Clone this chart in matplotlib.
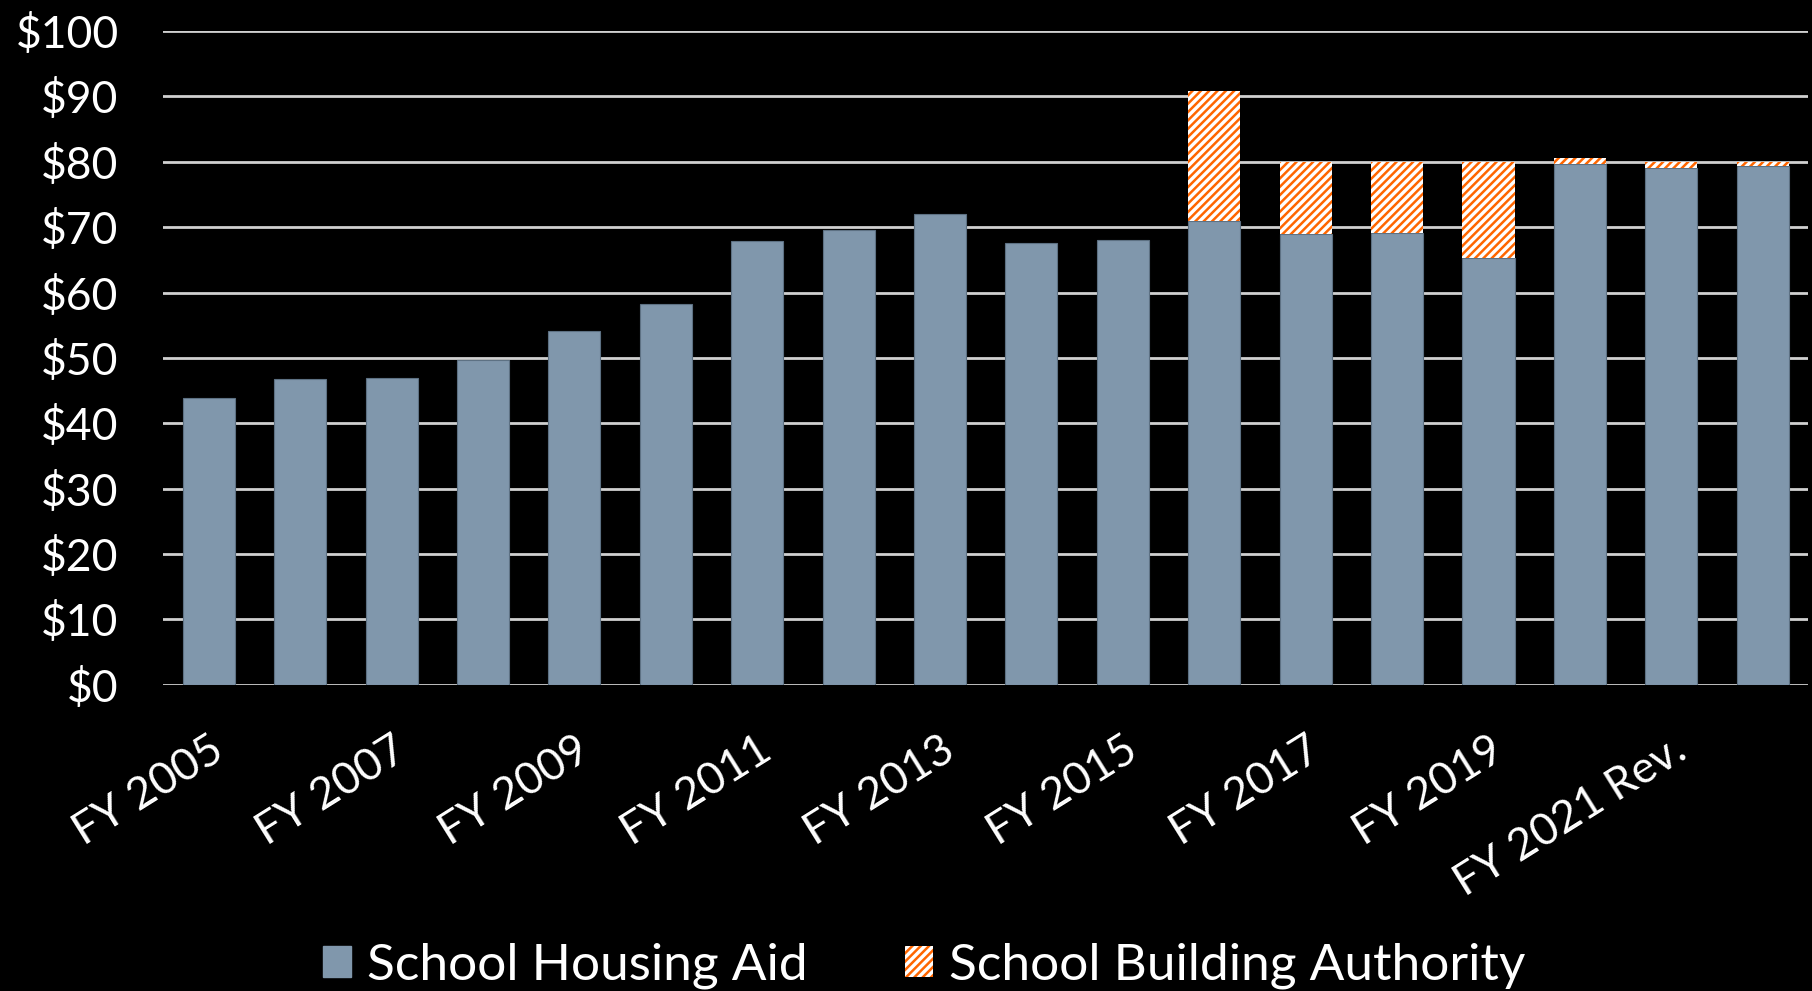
import numpy as np
import matplotlib
matplotlib.use("Agg")
import matplotlib.pyplot as plt
from matplotlib.patches import Patch

plt.rcParams['font.family'] = ['Lato', 'DejaVu Sans']
plt.rcParams['hatch.linewidth'] = 1.8

# fiscal years, every other one gets a label like in the original
years = ["FY 2005", "FY 2006", "FY 2007", "FY 2008", "FY 2009", "FY 2010",
         "FY 2011", "FY 2012", "FY 2013", "FY 2014", "FY 2015", "FY 2016",
         "FY 2017", "FY 2018", "FY 2019", "FY 2020", "FY 2021 Rev.", "FY 2022"]

# $ millions
housing_aid = [43.9, 46.7, 46.9, 49.7, 54.1, 58.2, 67.9, 69.6, 72.0, 67.6,
               68.0, 70.9, 69.0, 69.1, 65.3, 79.6, 79.1, 79.3]
building_auth = [0, 0, 0, 0, 0, 0, 0, 0, 0, 0,
                 0, 20.0, 11.0, 10.9, 14.7, 1.0, 0.9, 0.7]

yticks = [0, 10, 20, 30, 40, 50, 60, 70, 80, 90, 100]

blue = "#8097ac"
orange = "#ff6600"

fig = plt.figure(figsize=(18.12, 9.91), dpi=100, facecolor="black")
ax = fig.add_axes([0.09, 0.309, 0.908, 0.6597])
ax.set_facecolor("black")

x = np.arange(len(years))
ax.bar(x, housing_aid, width=0.57, color=blue, edgecolor="#5d7183",
       linewidth=0.8, zorder=3)
ax.bar(x, building_auth, width=0.57, bottom=housing_aid, facecolor="white",
       edgecolor=orange, hatch="////", linewidth=0, zorder=3)

ax.set_xlim(-0.5, len(years) - 0.5)
ax.set_ylim(0, 100)
ax.set_yticks(yticks)
ax.set_yticklabels(["$%d" % v for v in yticks])
ax.yaxis.grid(True, color="#d0d0d0", linewidth=2, zorder=0)
ax.set_axisbelow(True)

ax.set_xticks(x)
ax.set_xticklabels([y if i % 2 == 0 else "" for i, y in enumerate(years)],
                   rotation=32, ha="right", va="top", rotation_mode="anchor")

for s in ax.spines.values():
    s.set_visible(False)

ax.tick_params(axis="y", length=0, pad=32, labelsize=32, labelcolor="white")
ax.tick_params(axis="x", length=0, pad=32, labelsize=32, labelcolor="white")

handles = [Patch(facecolor=blue, edgecolor=blue),
           Patch(facecolor="white", edgecolor=orange, hatch="////", linewidth=0)]
leg = fig.legend(handles, ["School Housing Aid", "School Building Authority"],
                 loc="lower center", bbox_to_anchor=(0.51, -0.045), ncol=2,
                 frameon=False, fontsize=37, labelcolor="white",
                 handlelength=0.55, handleheight=0.55, handletextpad=0.3,
                 columnspacing=1.9)

fig.savefig("out.png", dpi=100, facecolor="black")
